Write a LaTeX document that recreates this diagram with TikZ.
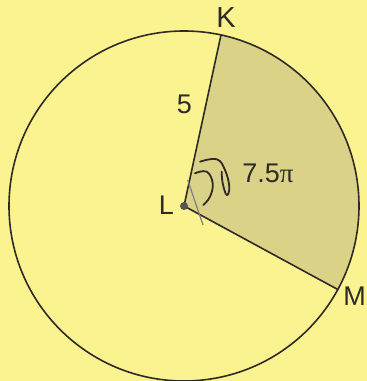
\documentclass[tikz,border=0pt]{standalone}
\usepackage{fontspec}
\setmainfont{Liberation Sans}
\newfontfamily\greekfont{Liberation Serif}
\usetikzlibrary{calc}
\definecolor{paper}{RGB}{251,243,143}
\definecolor{sector}{RGB}{218,210,134}
\definecolor{ink}{RGB}{45,42,40}
\newlength{\CircleRadius}
\setlength{\CircleRadius}{175pt}
\tikzset{
  rim/.style={draw=ink, line width=1.6pt},
  point label/.style={font=\fontsize{27}{27}\selectfont, text=ink, inner sep=0pt},
  scribble/.style={draw=ink, line width=1.8pt, line cap=round, line join=round},
}

\begin{document}
\begin{tikzpicture}[x=1pt, y=1pt]
  \fill[paper] (0,0) rectangle (367,381);
  \useasboundingbox (0,0) rectangle (367,381);

  \coordinate (L) at (184,175);
  \coordinate (K) at ($(L)+(77.8:\CircleRadius)$);
  \coordinate (M) at ($(L)+(-28.5:\CircleRadius)$);

  % shaded sector KLM
  \fill[sector] (L) -- (M) arc[start angle=-28.5, end angle=77.8, radius=\CircleRadius] -- cycle;
  \draw[rim] (L) circle[radius=\CircleRadius];
  \draw[rim] (K) -- (L) -- (M);
  \fill[ink!80] (L) circle[radius=4pt];

  % pencil marks
  \coordinate (tickA) at (187.7,201);
  \coordinate (tickB) at (203,156);
  \draw[gray, line width=1.2pt] (tickA) -- (tickB);
  \draw[scribble] plot[smooth, tension=0.7] coordinates {(200,219.3) (216.7,221.7) (225,211) (229.3,194.3) (226.7,186) (222.7,197.7) (221.7,209.3)};
  \draw[scribble] plot[smooth, tension=0.7] coordinates {(195,207.7) (206.7,209.3) (212.7,197.7) (210,184.3) (203.3,176)};

  \node[point label, font=\fontsize{29}{29}\selectfont] (Klabel) at (226,363) {K};
  \node[point label] (Llabel) at (166.5,176) {L};
  \node[point label, anchor=east] (Mlabel) at (366,85) {M};
  \node[point label] (radius) at (184.5,277) {5};
  \node[point label] (arclen) at (268,208) {7.5{\greekfont π}};
\end{tikzpicture}
\end{document}
